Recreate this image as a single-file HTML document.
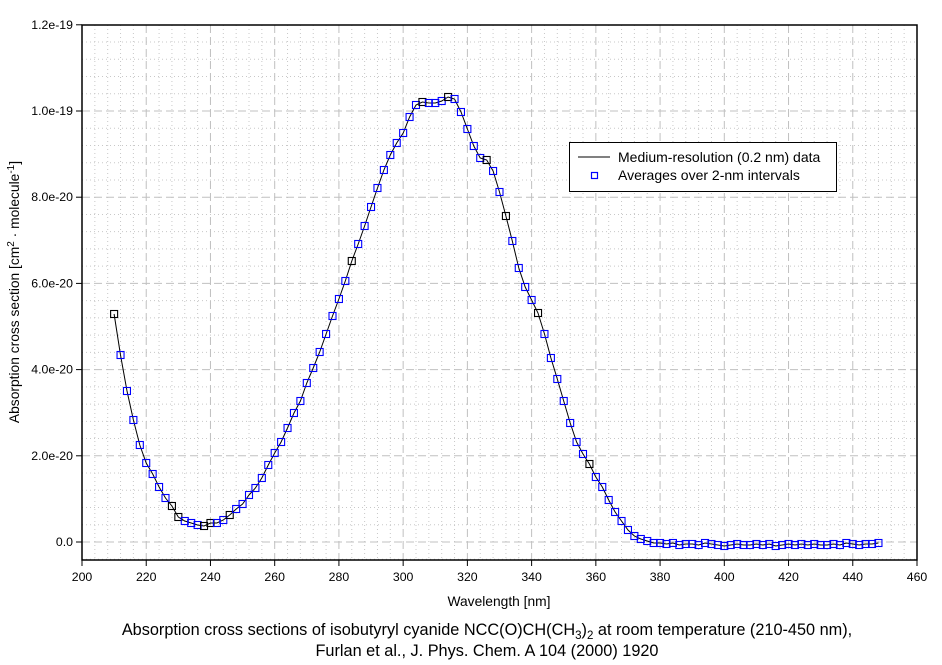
<!DOCTYPE html>
<html><head><meta charset="utf-8"><style>
body{margin:0;background:#fff;}
svg{display:block;font-family:"Liberation Sans",Arial,sans-serif;}
</style></head><body>
<svg id="s" width="942" height="665" xmlns="http://www.w3.org/2000/svg">
<rect width="942" height="665" fill="#fff"/>
<g id="grid"></g>
<rect x="82" y="25" width="835" height="535" fill="none" stroke="#000" stroke-width="1.5"/>
<g id="ticks" stroke="#000" stroke-width="1"></g>
<g id="labels" font-size="12.3" fill="#000"></g>
<path id="curve" fill="none" stroke="#000" stroke-width="1"/>
<g id="marks"></g>
<rect x="569.5" y="142.5" width="267" height="49" fill="#fff" stroke="#000" stroke-width="1"/>
<line x1="578" y1="157" x2="610" y2="157" stroke="#000" stroke-width="1"/>
<text x="618" y="162" font-size="14">Medium-resolution (0.2 nm) data</text>
<rect x="591.5" y="172.5" width="6" height="6" fill="none" stroke="#00f" stroke-width="1.2"/>
<text x="618" y="180" font-size="14">Averages over 2-nm intervals</text>
<text x="499" y="606" font-size="13.8" text-anchor="middle">Wavelength [nm]</text>
<text transform="translate(19,292) rotate(-90)" font-size="13.8" text-anchor="middle">Absorption cross section [cm<tspan dy="-5" font-size="10">2</tspan><tspan dy="5"> · molecule</tspan><tspan dy="-5" font-size="10">-1</tspan><tspan dy="5">]</tspan></text>
<text x="487" y="635" font-size="16.3" text-anchor="middle">Absorption cross sections of isobutyryl cyanide NCC(O)CH(CH<tspan dy="4" font-size="11.5">3</tspan><tspan dy="-4">)</tspan><tspan dy="4" font-size="11.5">2</tspan><tspan dy="-4"> at room temperature (210-450 nm),</tspan></text>
<text x="487" y="656" font-size="16.3" text-anchor="middle">Furlan et al., J. Phys. Chem. A 104 (2000) 1920</text>
</svg>
<script>
const NS="http://www.w3.org/2000/svg";
function X(nm){return 82+(nm-200)*835/260;}
function Yv(v){return 542-v*86.2/2;}
function el(p,t,a){const e=document.createElementNS(NS,t);for(const k in a)e.setAttribute(k,a[k]);p.appendChild(e);return e;}
const g=document.getElementById('grid'),tk=document.getElementById('ticks'),lb=document.getElementById('labels');
for(let nm=204;nm<460;nm+=4){if(nm%20==0)continue;const x=X(nm);el(g,'line',{x1:x,y1:25,x2:x,y2:560,stroke:'#c8c8c8','stroke-dasharray':'1,3'});}
for(let v=-0.4;v<12;v+=0.4){const r=Math.round(v*10);if(r%20==0)continue;const y=Yv(v);el(g,'line',{x1:82,y1:y,x2:917,y2:y,stroke:'#c8c8c8','stroke-dasharray':'1,3'});}
for(let nm=220;nm<460;nm+=20){const x=X(nm);el(g,'line',{x1:x,y1:25,x2:x,y2:560,stroke:'#c0c0c0','stroke-dasharray':'8,4'});}
for(let v=0;v<12;v+=2){const y=Yv(v);el(g,'line',{x1:82,y1:y,x2:917,y2:y,stroke:'#c0c0c0','stroke-dasharray':'8,4'});}
for(let nm=200;nm<=460;nm+=20){const x=X(nm);el(tk,'line',{x1:x,y1:560,x2:x,y2:566});const t=el(lb,'text',{x:x,y:581,'text-anchor':'middle'});t.textContent=nm;}
const yl=['0.0','2.0e-20','4.0e-20','6.0e-20','8.0e-20','1.0e-19','1.2e-19'];
for(let i=0;i<7;i++){const y=Yv(i*2);el(tk,'line',{x1:76,y1:y,x2:82,y2:y});const t=el(lb,'text',{x:73,y:y+4,'text-anchor':'end'});t.textContent=yl[i];}
const pts=[[210,314],[212,355],[214,391],[216,420],[218,445],[220,463],[222,474],[224,487],[226,498],[228,506],[230,517],[232,521],[234,523],[236,525],[238,526],[240,523],[242,523],[244,520],[246,515],[248,509],[250,504],[252,495],[254,488],[256,478],[258,465],[260,453],[262,442],[264,428],[266,413],[268,401],[270,383],[272,368],[274,352],[276,334],[278,316],[280,299],[282,281],[284,261],[286,244],[288,226],[290,207],[292,188],[294,170],[296,155],[298,143],[300,133],[302,117],[304,105],[306,102],[308,103],[310,103],[312,101],[314,97],[316,99],[318,112],[320,129],[322,146],[324,158],[326,160],[328,171],[330,192],[332,216],[334,241],[336,268],[338,287],[340,300],[342,313],[344,334],[346,358],[348,379],[350,401],[352,423],[354,442],[356,454],[358,464],[360,477],[362,487],[364,500],[366,512],[368,521],[370,530],[372,536],[374,539],[376,541],[378,543]];
const noise=[0,1,0,2,1,1,2,0,1,2,3,2,1,2,2,1,2,1,3,2,1,2,1,2,1,2,2,1,2,0,1,2,1,1,0,1];
for(let i=0;i<35;i++)pts.push([380+2*i,543+noise[i]]);
let d='';pts.forEach((p,i)=>{d+=(i?'L':'M')+X(p[0]).toFixed(1)+','+p[1];});
document.getElementById('curve').setAttribute('d',d);
const blk=new Set([210,228,238,240,284,306,314,326,332,342,358,230,246]);
const mk=document.getElementById('marks');
pts.forEach(p=>{el(mk,'rect',{x:X(p[0])-3.5,y:p[1]-3.5,width:7,height:7,fill:'none',stroke:blk.has(p[0])?'#000':'#00f','stroke-width':1.1});});
</script>
</body></html>
